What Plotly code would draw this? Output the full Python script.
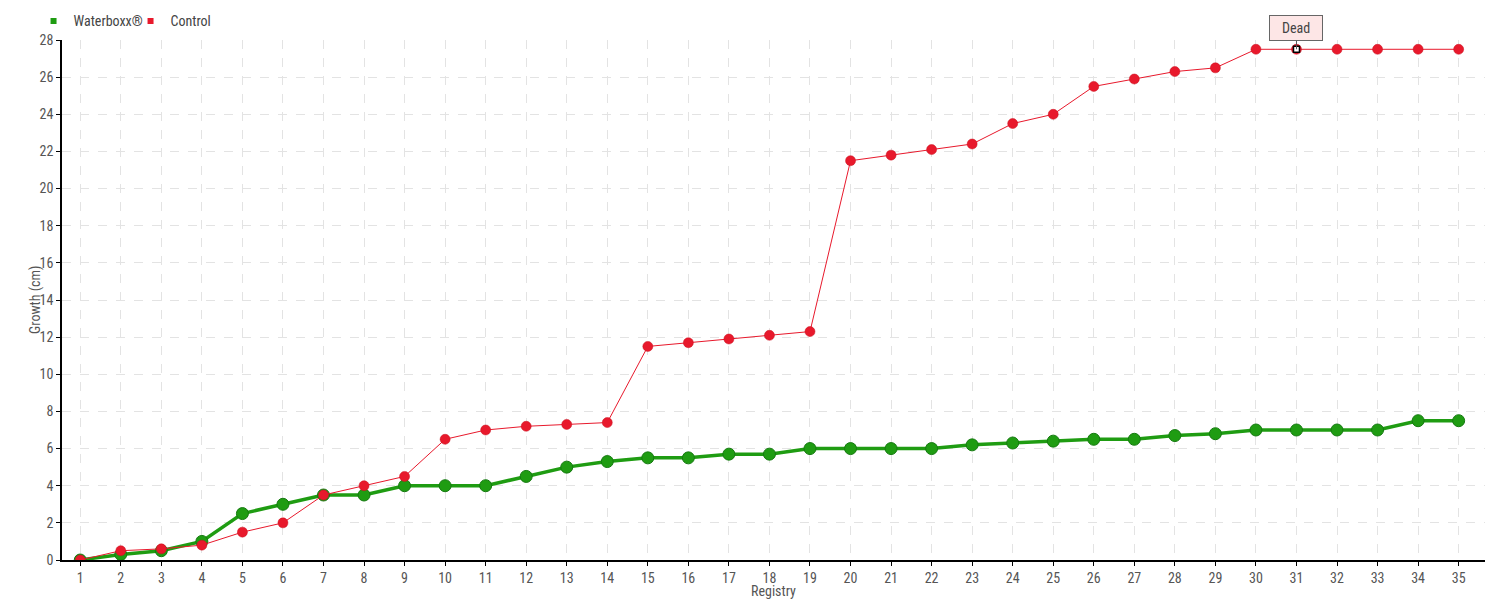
import plotly.graph_objects as go

registry = list(range(1, 36))
waterboxx = [0, 0.3, 0.5, 1.0, 2.5, 3.0, 3.5, 3.5, 4.0, 4.0, 4.0, 4.5, 5.0, 5.3, 5.5, 5.5, 5.7, 5.7,
             6.0, 6.0, 6.0, 6.0, 6.2, 6.3, 6.4, 6.5, 6.5, 6.7, 6.8, 7.0, 7.0, 7.0, 7.0, 7.5, 7.5]
control = [0, 0.5, 0.6, 0.8, 1.5, 2.0, 3.5, 4.0, 4.5, 6.5, 7.0, 7.2, 7.3, 7.4, 11.5, 11.7, 11.9, 12.1,
           12.3, 21.5, 21.8, 22.1, 22.4, 23.5, 24.0, 25.5, 25.9, 26.3, 26.5, 27.5, 27.5, 27.5, 27.5, 27.5, 27.5]
dead_index = 31
y_ticks = list(range(0, 29, 2))

FONT = "Roboto Condensed, Liberation Sans Narrow, Roboto, sans-serif"
GREEN = "#1f9c12"
RED = "#e8192c"

fig = go.Figure()

fig.add_trace(go.Scatter(x=registry, y=waterboxx, mode="lines",
                         line=dict(color="#7ccc72", width=1.5), showlegend=False, hoverinfo="skip"))
fig.add_trace(go.Scatter(x=registry, y=waterboxx, mode="lines+markers", name="Waterboxx®",
                         line=dict(color=GREEN, width=3.5),
                         marker=dict(size=12, color=GREEN, line=dict(color="#157a10", width=1)),
                         showlegend=False))
fig.add_trace(go.Scatter(x=registry, y=control, mode="lines+markers", name="Control",
                         line=dict(color=RED, width=1),
                         marker=dict(size=10, color=RED, line=dict(color="#c8101f", width=0.5)),
                         showlegend=False))
fig.add_trace(go.Scatter(x=[registry[dead_index - 1]], y=[control[dead_index - 1]], mode="markers",
                         marker=dict(symbol="square", size=6, color="white", line=dict(color="black", width=1.5)),
                         showlegend=False))
fig.add_trace(go.Scatter(x=[None], y=[None], mode="markers", name="Waterboxx®",
                         marker=dict(symbol="square", size=6, color=GREEN)))
fig.add_trace(go.Scatter(x=[None], y=[None], mode="markers", name="Control",
                         marker=dict(symbol="square", size=6, color=RED)))

fig.add_annotation(x=registry[dead_index - 1], y=control[dead_index - 1], text="Dead",
                   showarrow=True, arrowhead=0, arrowwidth=1, arrowcolor="#555", ax=0, ay=-21,
                   bgcolor="#fde6e6", bordercolor="#666", borderwidth=1, borderpad=4,
                   width=44, font=dict(family=FONT, size=14, color="#444"))

fig.add_annotation(x=0.5, xref="paper", y=0, yref="paper", yshift=-21, yanchor="top",
                   text="Registry", showarrow=False, font=dict(family=FONT, size=14, color="#555"))
fig.add_annotation(x=0, xref="paper", y=0.5, yref="paper", xshift=-27, xanchor="center",
                   textangle=-90, text="Growth (cm)", showarrow=False,
                   font=dict(family=FONT, size=14, color="#555"))

fig.update_layout(
    width=1492, height=592,
    margin=dict(l=54, r=15, t=32, b=40, autoexpand=False),
    plot_bgcolor="white", paper_bgcolor="white",
    font=dict(family=FONT, size=14, color="#555"),
    legend=dict(orientation="h", x=-0.02, xanchor="left", y=1.036, yanchor="middle",
                font=dict(size=14, color="#444"), itemwidth=30, tracegroupgap=0,
                entrywidth=52, entrywidthmode="pixels",
                bgcolor="rgba(0,0,0,0)"),
    xaxis=dict(range=[0.55, 35.65], tickmode="array", tickvals=registry,
               showgrid=True, gridcolor="#e3e3e3", griddash="dash", gridwidth=1,
               showline=True, linecolor="black", linewidth=1.5,
               ticks="outside", ticklen=4, tickcolor="black",
               zeroline=False, automargin=False),
    yaxis=dict(range=[0, 28], tickmode="array", tickvals=y_ticks,
               showgrid=True, gridcolor="#e3e3e3", griddash="dash", gridwidth=1,
               showline=True, linecolor="black", linewidth=1.5,
               ticks="outside", ticklen=4, tickcolor="black",
               zeroline=False, automargin=False),
)

fig.write_html("out.html")
